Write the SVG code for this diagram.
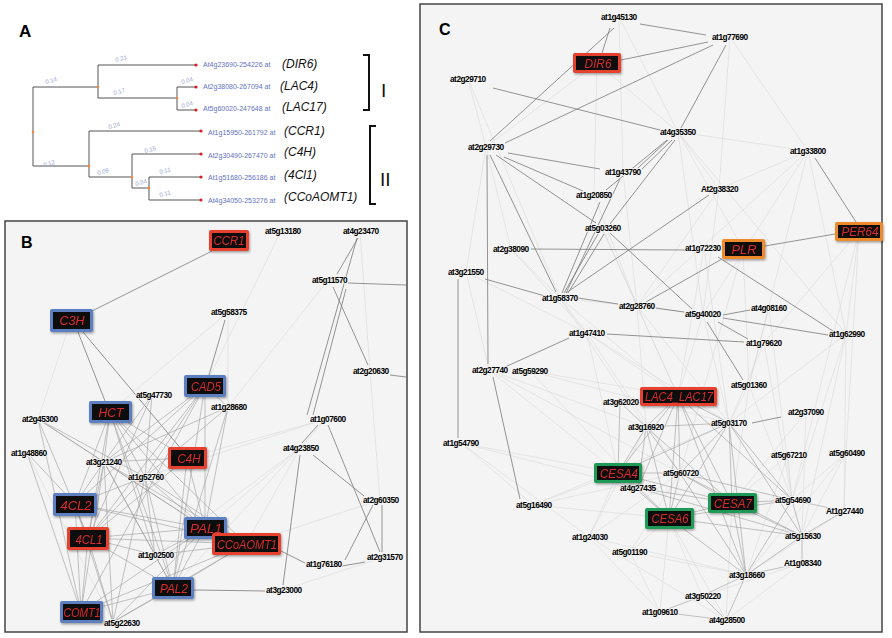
<svg xmlns="http://www.w3.org/2000/svg" width="892" height="638" viewBox="0 0 892 638">
<defs>
<filter id="sh" x="-20%" y="-30%" width="150%" height="170%"><feDropShadow dx="1" dy="1.5" stdDeviation="1.2" flood-color="#000" flood-opacity="0.35"/></filter>
<style>
.pl{font-family:"Liberation Sans",Arial,sans-serif;font-weight:bold;fill:#000}
.tr{fill:none;stroke:#555;stroke-width:1}
.bl{font-family:"Liberation Sans",Arial,sans-serif;font-size:6px;fill:#9aa6d6}
.lf{font-family:"Liberation Sans",Arial,sans-serif;font-size:7px;fill:#5f74c4}
.gn{font-family:"Liberation Sans",Arial,sans-serif;font-size:12px;font-style:italic;fill:#111}
.rn{font-family:"Liberation Sans",Arial,sans-serif;font-size:19px;fill:#111}
.br{fill:none;stroke:#111;stroke-width:2}
.panel{fill:#f4f4f4;stroke:#444;stroke-width:1.5}
.d{stroke:#7a7a7a;stroke-width:0.8}
.m{stroke:#9c9c9c;stroke-width:0.6}
.l{stroke:#d4d4d4;stroke-width:0.5}
.t{font-family:"Liberation Sans",Arial,sans-serif;font-weight:bold;font-size:8.3px;letter-spacing:-0.5px;fill:#000;stroke:#f4f4f4;stroke-width:1.6;paint-order:stroke}
.in{fill:#0d0d0d}
.bt{font-family:"Liberation Sans",Arial,sans-serif;font-size:13px;font-style:italic;fill:#dc2a2a;text-anchor:middle}
.red{fill:#e6402f}
.blue{fill:#5b7fc2}
.org{fill:#ef8a2a}
.grn{fill:#1f9a57}
</style>
</defs>
<rect width="892" height="638" fill="#fff"/>

<!-- Panel A -->
<g id="panelA">
<text class="pl" x="19" y="37" font-size="17">A</text>
<g id="tree">
<path class="tr" d="M33,87V166M33,87H98M98,65V98M98,65H196M98,98H177M177,87V110M177,87H196M177,110H196M33,166H89M89,131V177M89,131H201M89,177H132M132,154V188M132,154H201M132,188H149M149,177V200M149,177H201M149,200H201"/>
<g fill="#f08a3a">
<circle cx="98" cy="87" r="1.3"/><circle cx="177" cy="98" r="1.3"/><circle cx="33" cy="132" r="1.3"/><circle cx="89" cy="166" r="1.3"/><circle cx="132" cy="177" r="1.3"/><circle cx="149" cy="188" r="1.3"/>
</g>
<g fill="#d62020">
<circle cx="196" cy="65" r="1.6"/><circle cx="196" cy="87" r="1.6"/><circle cx="196" cy="110" r="1.6"/><circle cx="201" cy="131" r="1.6"/><circle cx="201" cy="154" r="1.6"/><circle cx="201" cy="177" r="1.6"/><circle cx="201" cy="200" r="1.6"/>
</g>
<text class="bl" transform="translate(116,62) rotate(-15)">0.21</text>
<text class="bl" transform="translate(46,84) rotate(-15)">0.14</text>
<text class="bl" transform="translate(114,95) rotate(-15)">0.17</text>
<text class="bl" transform="translate(182,84) rotate(-15)">0.04</text>
<text class="bl" transform="translate(182,108) rotate(-15)">0.04</text>
<text class="bl" transform="translate(109,129) rotate(-15)">0.24</text>
<text class="bl" transform="translate(44,167) rotate(-15)">0.12</text>
<text class="bl" transform="translate(98,175) rotate(-15)">0.08</text>
<text class="bl" transform="translate(145,153) rotate(-15)">0.15</text>
<text class="bl" transform="translate(136,186) rotate(-15)">0.04</text>
<text class="bl" transform="translate(160,174) rotate(-15)">0.11</text>
<text class="bl" transform="translate(160,197) rotate(-15)">0.11</text>
</g>
<text class="lf" x="203" y="67">At4g23690-254226 at</text>
<text class="lf" x="203" y="89">At2g38080-267094 at</text>
<text class="lf" x="203" y="111">At5g60020-247648 at</text>
<text class="lf" x="208" y="135">At1g15950-261792 at</text>
<text class="lf" x="208" y="158">At2g30490-267470 at</text>
<text class="lf" x="208" y="180">At1g51680-256186 at</text>
<text class="lf" x="208" y="203">At4g34050-253276 at</text>
<text class="gn" x="282" y="68">(DIR6)</text>
<text class="gn" x="280" y="90">(LAC4)</text>
<text class="gn" x="282" y="111">(LAC17)</text>
<text class="gn" x="284" y="135">(CCR1)</text>
<text class="gn" x="284" y="156">(C4H)</text>
<text class="gn" x="284" y="179">(4Cl1)</text>
<text class="gn" x="284" y="201">(CCoAOMT1)</text>
<path class="br" d="M363,55H369V110H363"/>
<path class="br" d="M376,126H370V204H376"/>
<text class="rn" x="381" y="97">I</text>
<text class="rn" x="380" y="186">II</text>
</g>

<rect class="panel" x="5" y="221" width="402" height="411"/>
<rect class="panel" x="420" y="4" width="462" height="628"/>
<text class="pl" x="21" y="248" font-size="16">B</text>
<text class="pl" x="439" y="35" font-size="16">C</text>

<g id="connectors">
<g id="edgesB">
<line class="l" x1="326" y1="419" x2="145" y2="477"/>
<line class="l" x1="300" y1="448" x2="205" y2="528"/>
<line class="l" x1="300" y1="448" x2="246" y2="544"/>
<line class="l" x1="370" y1="371" x2="380" y2="500"/>
<line class="l" x1="380" y1="500" x2="246" y2="544"/>
<line class="l" x1="326" y1="419" x2="173" y2="588"/>
<line class="l" x1="228" y1="312" x2="110" y2="412"/>
<line class="l" x1="281" y1="231" x2="205" y2="386"/>
<line class="l" x1="228" y1="312" x2="228" y2="407"/>
<line class="l" x1="360" y1="231" x2="370" y2="371"/>
<line class="l" x1="328" y1="280" x2="228" y2="407"/>
<line class="l" x1="71" y1="320" x2="38" y2="419"/>
<line class="l" x1="300" y1="448" x2="155" y2="555"/>
<line class="l" x1="384" y1="557" x2="283" y2="590"/>
<line class="l" x1="326" y1="419" x2="187" y2="458"/>
<line class="l" x1="27" y1="453" x2="113" y2="622"/>
<line class="d" x1="212" y1="251" x2="92" y2="311"/>
<line class="d" x1="78" y1="332" x2="105" y2="401"/>
<line class="d" x1="83" y1="332" x2="182" y2="450"/>
<line class="d" x1="225" y1="320" x2="209" y2="375"/>
<line class="d" x1="358" y1="238" x2="337" y2="274"/>
<line class="d" x1="357" y1="238" x2="307" y2="415"/>
<line class="d" x1="346" y1="289" x2="313" y2="415"/>
<line class="d" x1="333" y1="287" x2="368" y2="365"/>
<line class="d" x1="348" y1="283" x2="406" y2="285"/>
<line class="d" x1="390" y1="375" x2="406" y2="377"/>
<line class="d" x1="318" y1="425" x2="302" y2="443"/>
<line class="d" x1="328" y1="425" x2="380" y2="552"/>
<line class="d" x1="300" y1="455" x2="283" y2="585"/>
<line class="d" x1="313" y1="455" x2="364" y2="496"/>
<line class="d" x1="382" y1="505" x2="382" y2="552"/>
<line class="d" x1="373" y1="505" x2="345" y2="560"/>
<line class="d" x1="342" y1="566" x2="365" y2="562"/>
<line class="d" x1="281" y1="551" x2="305" y2="563"/>
<line class="d" x1="194" y1="590" x2="265" y2="591"/>
<g class="m">
<line x1="110" y1="412" x2="104" y2="462"/><line x1="110" y1="412" x2="145" y2="477"/><line x1="110" y1="412" x2="205" y2="528"/><line x1="110" y1="412" x2="88" y2="538"/><line x1="110" y1="412" x2="75" y2="504"/><line x1="110" y1="412" x2="187" y2="458"/><line x1="110" y1="412" x2="246" y2="544"/><line x1="110" y1="412" x2="155" y2="555"/><line x1="110" y1="412" x2="173" y2="588"/>
<line x1="205" y1="386" x2="104" y2="462"/><line x1="205" y1="386" x2="145" y2="477"/><line x1="205" y1="386" x2="88" y2="538"/><line x1="205" y1="386" x2="75" y2="504"/><line x1="205" y1="386" x2="205" y2="528"/><line x1="205" y1="386" x2="173" y2="588"/><line x1="205" y1="386" x2="228" y2="407"/><line x1="205" y1="386" x2="81" y2="612"/>
<line x1="152" y1="395" x2="104" y2="462"/><line x1="152" y1="395" x2="145" y2="477"/><line x1="152" y1="395" x2="88" y2="538"/>
<line x1="228" y1="407" x2="104" y2="462"/><line x1="228" y1="407" x2="205" y2="528"/><line x1="228" y1="407" x2="145" y2="477"/><line x1="228" y1="407" x2="173" y2="588"/>
<line x1="38" y1="419" x2="104" y2="462"/><line x1="38" y1="419" x2="145" y2="477"/><line x1="38" y1="419" x2="88" y2="538"/><line x1="38" y1="419" x2="205" y2="528"/><line x1="38" y1="419" x2="81" y2="612"/>
<line x1="27" y1="453" x2="75" y2="504"/><line x1="27" y1="453" x2="81" y2="612"/>
<line x1="104" y1="462" x2="75" y2="504"/><line x1="104" y1="462" x2="88" y2="538"/><line x1="104" y1="462" x2="205" y2="528"/><line x1="104" y1="462" x2="173" y2="588"/><line x1="104" y1="462" x2="81" y2="612"/><line x1="104" y1="462" x2="113" y2="622"/><line x1="104" y1="462" x2="155" y2="555"/><line x1="104" y1="462" x2="246" y2="544"/>
<line x1="145" y1="477" x2="205" y2="528"/><line x1="145" y1="477" x2="246" y2="544"/><line x1="145" y1="477" x2="173" y2="588"/><line x1="145" y1="477" x2="88" y2="538"/><line x1="145" y1="477" x2="75" y2="504"/><line x1="145" y1="477" x2="155" y2="555"/><line x1="145" y1="477" x2="113" y2="622"/>
<line x1="187" y1="458" x2="205" y2="528"/><line x1="187" y1="458" x2="104" y2="462"/><line x1="187" y1="458" x2="88" y2="538"/><line x1="187" y1="458" x2="173" y2="588"/>
<line x1="75" y1="504" x2="205" y2="528"/><line x1="75" y1="504" x2="81" y2="612"/><line x1="75" y1="504" x2="113" y2="622"/><line x1="75" y1="504" x2="88" y2="538"/><line x1="75" y1="504" x2="246" y2="544"/>
<line x1="88" y1="538" x2="205" y2="528"/><line x1="88" y1="538" x2="246" y2="544"/><line x1="88" y1="538" x2="173" y2="588"/><line x1="88" y1="538" x2="81" y2="612"/><line x1="88" y1="538" x2="113" y2="622"/><line x1="88" y1="538" x2="155" y2="555"/>
<line x1="205" y1="528" x2="173" y2="588"/><line x1="205" y1="528" x2="113" y2="622"/><line x1="205" y1="528" x2="81" y2="612"/><line x1="205" y1="528" x2="155" y2="555"/><line x1="205" y1="528" x2="246" y2="544"/>
<line x1="246" y1="544" x2="173" y2="588"/><line x1="246" y1="544" x2="113" y2="622"/><line x1="246" y1="544" x2="155" y2="555"/><line x1="246" y1="544" x2="81" y2="612"/>
<line x1="173" y1="588" x2="113" y2="622"/><line x1="173" y1="588" x2="81" y2="612"/><line x1="155" y1="555" x2="173" y2="588"/>
</g>
</g>

<g id="edgesC">
<g class="l">
<line x1="468" y1="79" x2="486" y2="147"/><line x1="468" y1="79" x2="560" y2="298"/><line x1="597" y1="63" x2="486" y2="147"/><line x1="597" y1="63" x2="678" y2="132"/><line x1="597" y1="63" x2="594" y2="195"/><line x1="619" y1="17" x2="678" y2="132"/><line x1="619" y1="17" x2="623" y2="172"/><line x1="730" y1="37" x2="719" y2="189"/><line x1="730" y1="37" x2="808" y2="151"/><line x1="678" y1="132" x2="808" y2="151"/><line x1="678" y1="132" x2="719" y2="189"/><line x1="678" y1="132" x2="743" y2="249"/><line x1="678" y1="132" x2="703" y2="314"/><line x1="678" y1="132" x2="846" y2="334"/><line x1="808" y1="151" x2="719" y2="189"/><line x1="808" y1="151" x2="846" y2="334"/><line x1="808" y1="151" x2="703" y2="314"/><line x1="808" y1="151" x2="749" y2="385"/><line x1="859" y1="231" x2="846" y2="334"/><line x1="859" y1="231" x2="846" y2="453"/><line x1="859" y1="231" x2="792" y2="500"/><line x1="511" y1="249" x2="560" y2="298"/><line x1="511" y1="249" x2="587" y2="333"/><line x1="466" y1="272" x2="489" y2="370"/><line x1="466" y1="272" x2="587" y2="333"/><line x1="560" y1="298" x2="587" y2="333"/><line x1="560" y1="298" x2="646" y2="427"/><line x1="560" y1="298" x2="678" y2="396"/><line x1="637" y1="306" x2="678" y2="396"/><line x1="637" y1="306" x2="646" y2="427"/><line x1="587" y1="333" x2="678" y2="396"/><line x1="587" y1="333" x2="680" y2="473"/><line x1="587" y1="333" x2="618" y2="473"/><line x1="489" y1="370" x2="618" y2="473"/><line x1="489" y1="370" x2="680" y2="473"/><line x1="489" y1="370" x2="646" y2="427"/><line x1="530" y1="371" x2="678" y2="396"/><line x1="530" y1="371" x2="669" y2="518"/><line x1="530" y1="371" x2="729" y2="423"/><line x1="461" y1="443" x2="618" y2="473"/><line x1="461" y1="443" x2="638" y2="488"/><line x1="461" y1="443" x2="589" y2="537"/><line x1="533" y1="505" x2="618" y2="473"/><line x1="533" y1="505" x2="680" y2="473"/><line x1="533" y1="505" x2="669" y2="518"/><line x1="533" y1="505" x2="729" y2="423"/><line x1="589" y1="537" x2="618" y2="473"/><line x1="589" y1="537" x2="646" y2="427"/><line x1="589" y1="537" x2="680" y2="473"/><line x1="589" y1="537" x2="726" y2="620"/><line x1="589" y1="537" x2="746" y2="575"/><line x1="630" y1="552" x2="669" y2="518"/><line x1="630" y1="552" x2="680" y2="473"/><line x1="630" y1="552" x2="746" y2="575"/><line x1="630" y1="552" x2="660" y2="612"/><line x1="749" y1="385" x2="729" y2="423"/><line x1="749" y1="385" x2="732" y2="503"/><line x1="749" y1="385" x2="792" y2="500"/><line x1="764" y1="343" x2="729" y2="423"/><line x1="764" y1="343" x2="792" y2="500"/><line x1="846" y1="334" x2="792" y2="500"/><line x1="846" y1="334" x2="802" y2="536"/><line x1="846" y1="334" x2="844" y2="511"/><line x1="846" y1="334" x2="729" y2="423"/><line x1="846" y1="453" x2="802" y2="536"/><line x1="846" y1="453" x2="792" y2="500"/><line x1="846" y1="453" x2="844" y2="511"/><line x1="788" y1="455" x2="792" y2="500"/><line x1="788" y1="455" x2="746" y2="575"/><line x1="788" y1="455" x2="732" y2="503"/><line x1="802" y1="563" x2="726" y2="620"/><line x1="802" y1="563" x2="702" y2="596"/><line x1="806" y1="412" x2="732" y2="503"/><line x1="806" y1="412" x2="802" y2="536"/><line x1="769" y1="308" x2="749" y2="385"/><line x1="769" y1="308" x2="792" y2="500"/><line x1="719" y1="189" x2="703" y2="314"/><line x1="719" y1="189" x2="637" y2="306"/><line x1="704" y1="248" x2="729" y2="423"/><line x1="704" y1="248" x2="678" y2="396"/><line x1="743" y1="249" x2="680" y2="473"/><line x1="743" y1="249" x2="749" y2="385"/><line x1="660" y1="612" x2="669" y2="518"/><line x1="660" y1="612" x2="589" y2="537"/><line x1="726" y1="620" x2="669" y2="518"/><line x1="726" y1="620" x2="732" y2="503"/><line x1="702" y1="596" x2="669" y2="518"/><line x1="594" y1="195" x2="637" y2="306"/><line x1="623" y1="172" x2="637" y2="306"/><line x1="602" y1="228" x2="637" y2="306"/><line x1="602" y1="228" x2="678" y2="396"/><line x1="560" y1="298" x2="703" y2="314"/><line x1="486" y1="147" x2="466" y2="272"/><line x1="486" y1="147" x2="511" y2="249"/><line x1="808" y1="151" x2="637" y2="306"/><line x1="859" y1="231" x2="764" y2="343"/><line x1="461" y1="443" x2="533" y2="505"/><line x1="703" y1="314" x2="678" y2="396"/><line x1="703" y1="314" x2="729" y2="423"/><line x1="637" y1="306" x2="729" y2="423"/><line x1="587" y1="333" x2="729" y2="423"/><line x1="846" y1="453" x2="746" y2="575"/><line x1="844" y1="511" x2="746" y2="575"/>
</g>
<g class="d">
<line x1="640" y1="24" x2="706" y2="35"/><line x1="621" y1="60" x2="708" y2="42"/><line x1="614" y1="28" x2="490" y2="141"/><line x1="610" y1="28" x2="602" y2="53"/><line x1="713" y1="45" x2="505" y2="143"/><line x1="726" y1="45" x2="681" y2="128"/><line x1="493" y1="88" x2="660" y2="130"/><line x1="508" y1="153" x2="600" y2="169"/><line x1="504" y1="157" x2="583" y2="191"/><line x1="487" y1="155" x2="488" y2="364"/><line x1="490" y1="155" x2="556" y2="292"/><line x1="496" y1="155" x2="596" y2="223"/><line x1="668" y1="140" x2="638" y2="168"/><line x1="672" y1="140" x2="642" y2="169"/><line x1="667" y1="140" x2="606" y2="190"/><line x1="675" y1="140" x2="610" y2="224"/><line x1="600" y1="202" x2="562" y2="293"/><line x1="620" y1="179" x2="566" y2="293"/><line x1="709" y1="195" x2="566" y2="293"/><line x1="815" y1="158" x2="856" y2="222"/><line x1="531" y1="249" x2="685" y2="250"/><line x1="610" y1="233" x2="692" y2="309"/><line x1="598" y1="234" x2="564" y2="293"/><line x1="604" y1="234" x2="568" y2="293"/><line x1="765" y1="246" x2="835" y2="234"/><line x1="722" y1="259" x2="646" y2="302"/><line x1="718" y1="257" x2="833" y2="331"/><line x1="485" y1="279" x2="545" y2="296"/><line x1="458" y1="279" x2="458" y2="438"/><line x1="578" y1="298" x2="618" y2="304"/><line x1="656" y1="308" x2="684" y2="312"/><line x1="723" y1="315" x2="750" y2="310"/><line x1="723" y1="318" x2="828" y2="335"/><line x1="718" y1="322" x2="748" y2="339"/><line x1="707" y1="322" x2="743" y2="380"/><line x1="607" y1="334" x2="744" y2="342"/><line x1="569" y1="338" x2="505" y2="367"/><line x1="493" y1="377" x2="520" y2="499"/><line x1="752" y1="423" x2="781" y2="417"/>
</g>
<g class="m">
<line x1="678" y1="396" x2="646" y2="427"/><line x1="678" y1="396" x2="729" y2="423"/><line x1="678" y1="396" x2="680" y2="473"/><line x1="678" y1="396" x2="732" y2="503"/><line x1="678" y1="396" x2="669" y2="518"/><line x1="678" y1="396" x2="618" y2="473"/><line x1="678" y1="396" x2="638" y2="488"/><line x1="678" y1="396" x2="792" y2="500"/><line x1="678" y1="396" x2="746" y2="575"/>
<line x1="620" y1="402" x2="646" y2="427"/><line x1="620" y1="402" x2="618" y2="473"/>
<line x1="646" y1="427" x2="680" y2="473"/><line x1="646" y1="427" x2="618" y2="473"/><line x1="646" y1="427" x2="669" y2="518"/><line x1="646" y1="427" x2="638" y2="488"/><line x1="646" y1="427" x2="732" y2="503"/><line x1="646" y1="427" x2="729" y2="423"/>
<line x1="729" y1="423" x2="618" y2="473"/><line x1="729" y1="423" x2="680" y2="473"/><line x1="729" y1="423" x2="732" y2="503"/><line x1="729" y1="423" x2="792" y2="500"/><line x1="729" y1="423" x2="746" y2="575"/><line x1="729" y1="423" x2="802" y2="536"/><line x1="729" y1="423" x2="669" y2="518"/>
<line x1="680" y1="473" x2="732" y2="503"/><line x1="680" y1="473" x2="792" y2="500"/><line x1="680" y1="473" x2="802" y2="536"/><line x1="680" y1="473" x2="669" y2="518"/><line x1="680" y1="473" x2="746" y2="575"/><line x1="680" y1="473" x2="618" y2="473"/>
<line x1="638" y1="488" x2="669" y2="518"/><line x1="638" y1="488" x2="732" y2="503"/><line x1="638" y1="488" x2="802" y2="536"/>
<line x1="618" y1="473" x2="669" y2="518"/><line x1="618" y1="473" x2="732" y2="503"/>
<line x1="732" y1="503" x2="792" y2="500"/><line x1="732" y1="503" x2="802" y2="536"/><line x1="732" y1="503" x2="746" y2="575"/>
<line x1="669" y1="518" x2="802" y2="536"/><line x1="669" y1="518" x2="746" y2="575"/><line x1="669" y1="518" x2="732" y2="503"/><line x1="669" y1="518" x2="792" y2="500"/>
<line x1="792" y1="500" x2="746" y2="575"/><line x1="792" y1="500" x2="802" y2="536"/><line x1="792" y1="500" x2="844" y2="511"/>
<line x1="802" y1="536" x2="844" y2="511"/><line x1="802" y1="536" x2="746" y2="575"/><line x1="802" y1="536" x2="802" y2="563"/>
<line x1="746" y1="575" x2="702" y2="596"/><line x1="746" y1="575" x2="726" y2="620"/><line x1="746" y1="575" x2="802" y2="563"/>
<line x1="702" y1="596" x2="660" y2="612"/><line x1="702" y1="596" x2="726" y2="620"/><line x1="660" y1="612" x2="726" y2="620"/>
</g>
</g>
</g>

<g id="labelsB">
<text id="n-at5g13180" class="t" x="265" y="234">at5g13180</text>
<text id="n-at4g23470" class="t" x="343" y="234">at4g23470</text>
<text id="n-at5g11570" class="t" x="312" y="283">at5g11570</text>
<text id="n-at5g58375" class="t" x="211" y="315">at5g58375</text>
<text id="n-at2g20630" class="t" x="353" y="374">at2g20630</text>
<text id="n-at5g47730" class="t" x="136" y="398">at5g47730</text>
<text id="n-at1g28680" class="t" x="211" y="410">at1g28680</text>
<text id="n-at2g45300" class="t" x="22" y="422">at2g45300</text>
<text id="n-at1g07600" class="t" x="310" y="422">at1g07600</text>
<text id="n-at1g48860" class="t" x="11" y="456">at1g48860</text>
<text id="n-at3g21240" class="t" x="86" y="465">at3g21240</text>
<text id="n-at1g52760" class="t" x="128" y="480">at1g52760</text>
<text id="n-at4g23850" class="t" x="283" y="451">at4g23850</text>
<text id="n-at2g60350" class="t" x="363" y="503">at2g60350</text>
<text id="n-at1g02500" class="t" x="138" y="558">at1g02500</text>
<text id="n-at1g76180" class="t" x="306" y="567">at1g76180</text>
<text id="n-at2g31570" class="t" x="367" y="560">at2g31570</text>
<text id="n-at3g23000" class="t" x="266" y="593">at3g23000</text>
<text id="n-at5g22630" class="t" x="104" y="626">at5g22630</text>
</g>

<g id="n-CCR1" filter="url(#sh)"><rect class="red" x="209" y="230" width="40" height="21" rx="2"/><rect class="in" x="212" y="233" width="34" height="15"/><text class="bt" x="229" y="245" textLength="31" lengthAdjust="spacingAndGlyphs">CCR1</text></g>
<g id="n-C3H" filter="url(#sh)"><rect class="blue" x="50" y="309" width="43" height="23" rx="2"/><rect class="in" x="53" y="312" width="37" height="17"/><text class="bt" x="72" y="325" textLength="25" lengthAdjust="spacingAndGlyphs">C3H</text></g>
<g id="n-CAD5" filter="url(#sh)"><rect class="blue" x="184" y="375" width="42" height="22" rx="2"/><rect class="in" x="187" y="378" width="36" height="16"/><text class="bt" x="206" y="391" textLength="30" lengthAdjust="spacingAndGlyphs">CAD5</text></g>
<g id="n-HCT" filter="url(#sh)"><rect class="blue" x="89" y="401" width="43" height="22" rx="2"/><rect class="in" x="92" y="404" width="37" height="16"/><text class="bt" x="111" y="417" textLength="25" lengthAdjust="spacingAndGlyphs">HCT</text></g>
<g id="n-C4H" filter="url(#sh)"><rect class="red" x="168" y="447" width="39" height="22" rx="2"/><rect class="in" x="171" y="450" width="33" height="16"/><text class="bt" x="189" y="463" textLength="23" lengthAdjust="spacingAndGlyphs">C4H</text></g>
<g id="n-4CL2" filter="url(#sh)"><rect class="blue" x="53" y="493" width="44" height="23" rx="2"/><rect class="in" x="56" y="496" width="38" height="17"/><text class="bt" x="76" y="510" textLength="31" lengthAdjust="spacingAndGlyphs">4CL2</text></g>
<g id="n-4CL1" filter="url(#sh)"><rect class="red" x="67" y="527" width="42" height="23" rx="2"/><rect class="in" x="70" y="530" width="36" height="17"/><text class="bt" x="89" y="544" textLength="27" lengthAdjust="spacingAndGlyphs">4CL1</text></g>
<g id="n-PAL1" filter="url(#sh)"><rect class="blue" x="184" y="517" width="43" height="22" rx="2"/><rect class="in" x="187" y="520" width="37" height="16"/><text class="bt" x="206" y="533" textLength="32" lengthAdjust="spacingAndGlyphs">PAL1</text></g>
<g id="n-CCoAOMT1" filter="url(#sh)"><rect class="red" x="212" y="533" width="69" height="22" rx="2"/><rect class="in" x="215" y="536" width="63" height="16"/><text class="bt" x="247" y="549" textLength="60" lengthAdjust="spacingAndGlyphs">CCoAOMT1</text></g>
<g id="n-PAL2" filter="url(#sh)"><rect class="blue" x="152" y="577" width="42" height="22" rx="2"/><rect class="in" x="155" y="580" width="36" height="16"/><text class="bt" x="174" y="593" textLength="28" lengthAdjust="spacingAndGlyphs">PAL2</text></g>
<g id="n-COMT1" filter="url(#sh)"><rect class="blue" x="60" y="601" width="43" height="22" rx="2"/><rect class="in" x="63" y="604" width="37" height="16"/><text class="bt" x="82" y="617" textLength="37" lengthAdjust="spacingAndGlyphs">COMT1</text></g>

<g id="labelsC">
<text id="n-at1g45130" class="t" x="601" y="20">at1g45130</text>
<text id="n-at1g77690" class="t" x="712" y="40">at1g77690</text>
<text id="n-at2g29710" class="t" x="450" y="82">at2g29710</text>
<text id="n-at4g35350" class="t" x="660" y="135">at4g35350</text>
<text id="n-at2g29730" class="t" x="468" y="150">at2g29730</text>
<text id="n-at1g33800" class="t" x="790" y="154">at1g33800</text>
<text id="n-at1g43790" class="t" x="605" y="175">at1g43790</text>
<text id="n-at1g20850" class="t" x="576" y="198">at1g20850</text>
<text id="n-At2g38320" class="t" x="701" y="192">At2g38320</text>
<text id="n-at5g03260" class="t" x="585" y="231">at5g03260</text>
<text id="n-at2g38090" class="t" x="493" y="252">at2g38090</text>
<text id="n-at1g72230" class="t" x="685" y="251">at1g72230</text>
<text id="n-at3g21550" class="t" x="448" y="275">at3g21550</text>
<text id="n-at1g58370" class="t" x="542" y="301">at1g58370</text>
<text id="n-at2g28760" class="t" x="619" y="309">at2g28760</text>
<text id="n-at5g40020" class="t" x="685" y="317">at5g40020</text>
<text id="n-at4g08160" class="t" x="751" y="311">at4g08160</text>
<text id="n-at1g47410" class="t" x="569" y="336">at1g47410</text>
<text id="n-at1g79620" class="t" x="746" y="346">at1g79620</text>
<text id="n-at1g62990" class="t" x="829" y="337">at1g62990</text>
<text id="n-at2g27740" class="t" x="472" y="373">at2g27740</text>
<text id="n-at5g59290" class="t" x="512" y="374">at5g59290</text>
<text id="n-at5g01360" class="t" x="731" y="388">at5g01360</text>
<text id="n-at3g62020" class="t" x="603" y="405">at3g62020</text>
<text id="n-at2g37090" class="t" x="788" y="415">at2g37090</text>
<text id="n-at3g16920" class="t" x="628" y="430">at3g16920</text>
<text id="n-at5g03170" class="t" x="711" y="426">at5g03170</text>
<text id="n-at1g54790" class="t" x="443" y="446">at1g54790</text>
<text id="n-at5g67210" class="t" x="771" y="458">at5g67210</text>
<text id="n-at5g60490" class="t" x="829" y="456">at5g60490</text>
<text id="n-at5g60720" class="t" x="663" y="476">at5g60720</text>
<text id="n-at4g27435" class="t" x="620" y="491">at4g27435</text>
<text id="n-at5g16490" class="t" x="516" y="508">at5g16490</text>
<text id="n-at5g54690" class="t" x="775" y="503">at5g54690</text>
<text id="n-At1g27440" class="t" x="826" y="514">At1g27440</text>
<text id="n-at1g24030" class="t" x="572" y="540">at1g24030</text>
<text id="n-at5g15630" class="t" x="785" y="539">at5g15630</text>
<text id="n-at5g01190" class="t" x="612" y="555">at5g01190</text>
<text id="n-At1g08340" class="t" x="784" y="566">At1g08340</text>
<text id="n-at3g18660" class="t" x="729" y="578">at3g18660</text>
<text id="n-at3g50220" class="t" x="685" y="599">at3g50220</text>
<text id="n-at1g09610" class="t" x="642" y="615">at1g09610</text>
<text id="n-at4g28500" class="t" x="709" y="623">at4g28500</text>
</g>

<g id="n-DIR6" filter="url(#sh)"><rect class="red" x="573" y="53" width="48" height="20" rx="2"/><rect class="in" x="576" y="56" width="42" height="14"/><text class="bt" x="598" y="67.5" textLength="27" lengthAdjust="spacingAndGlyphs">DIR6</text></g>
<g id="n-PLR" filter="url(#sh)"><rect class="org" x="722" y="239" width="43" height="20" rx="2"/><rect class="in" x="725" y="242" width="37" height="14"/><text class="bt" x="744" y="253.5" textLength="25" lengthAdjust="spacingAndGlyphs">PLR</text></g>
<g id="n-PER64" filter="url(#sh)"><rect class="org" x="835" y="222" width="48" height="19" rx="2"/><rect class="in" x="838" y="225" width="42" height="13"/><text class="bt" x="860" y="236" textLength="37" lengthAdjust="spacingAndGlyphs">PER64</text></g>
<g id="n-LAC4_LAC17" filter="url(#sh)"><rect class="red" x="640" y="387" width="77" height="19" rx="2"/><rect class="in" x="643" y="390" width="71" height="13"/><text class="bt" x="679" y="401" textLength="68" lengthAdjust="spacingAndGlyphs">LAC4_LAC17</text></g>
<g id="n-CESA4" filter="url(#sh)"><rect class="grn" x="594" y="463" width="48" height="20" rx="2"/><rect class="in" x="597" y="466" width="42" height="14"/><text class="bt" x="619" y="477.5" textLength="38" lengthAdjust="spacingAndGlyphs">CESA4</text></g>
<g id="n-CESA7" filter="url(#sh)"><rect class="grn" x="708" y="493" width="49" height="20" rx="2"/><rect class="in" x="711" y="496" width="43" height="14"/><text class="bt" x="733" y="507.5" textLength="38" lengthAdjust="spacingAndGlyphs">CESA7</text></g>
<g id="n-CESA6" filter="url(#sh)"><rect class="grn" x="645" y="508" width="49" height="21" rx="2"/><rect class="in" x="648" y="511" width="43" height="15"/><text class="bt" x="670" y="523" textLength="37" lengthAdjust="spacingAndGlyphs">CESA6</text></g>
</svg>
